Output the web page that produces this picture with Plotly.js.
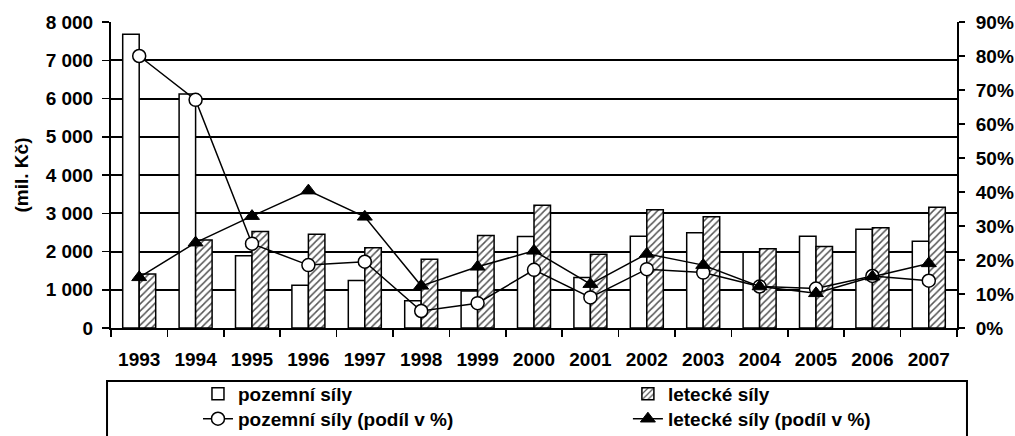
<!DOCTYPE html>
<html>
<head>
<meta charset="utf-8">
<script src="https://cdn.plot.ly/plotly-3.0.1.min.js"></script>
<style>html,body{margin:0;padding:0;background:#fff;}#chart{width:1015px;height:436px;}</style>
</head>
<body>
<div id="chart"></div>
<script>
const years = ['1993','1994','1995','1996','1997','1998','1999','2000','2001','2002','2003','2004','2005','2006','2007'];
const pozemniSily = [7680, 6120, 1890, 1120, 1240, 710, 970, 2390, 1320, 2400, 2490, 1980, 2400, 2580, 2270];
const leteckeSily = [1410, 2300, 2520, 2450, 2100, 1800, 2420, 3210, 1930, 3090, 2910, 2070, 2130, 2620, 3160];
const pozemniPodil = [80.0, 67.1, 24.8, 18.5, 19.5, 5.0, 7.3, 17.1, 9.0, 17.3, 16.3, 12.2, 11.6, 15.3, 13.9];
const leteckePodil = [14.9, 25.1, 32.9, 40.4, 32.7, 12.4, 18.0, 22.7, 12.9, 21.8, 18.5, 12.2, 10.2, 15.1, 19.0];
const leftTicks = [0,1000,2000,3000,4000,5000,6000,7000,8000];
const leftTickLabels = ['0','1 000','2 000','3 000','4 000','5 000','6 000','7 000','8 000'];
const rightTicks = [0,10,20,30,40,50,60,70,80,90];
const rightTickLabels = ['0%','10%','20%','30%','40%','50%','60%','70%','80%','90%'];

const F = {family: 'Liberation Sans', size: 19, color: '#000', weight: 'bold'};

const traces = [
  {type:'bar', name:'pozemní síly', x: years, y: pozemniSily, legend:'legend',
   marker:{color:'#fff', line:{color:'#000', width:1.5}}},
  {type:'bar', name:'letecké síly', x: years, y: leteckeSily, legend:'legend2',
   marker:{color:'#fff', line:{color:'#000', width:1.5},
           pattern:{shape:'/', fgcolor:'#555', bgcolor:'#fff', size:5, solidity:0.3}}},
  {type:'scatter', mode:'lines+markers', name:'pozemní síly (podíl v %)', x: years, y: pozemniPodil, yaxis:'y2', legend:'legend3',
   line:{color:'#000', width:1.5},
   marker:{symbol:'circle', size:13, color:'#fff', line:{color:'#000', width:1.5}}},
  {type:'scatter', mode:'lines+markers', name:'letecké síly (podíl v %)', x: years, y: leteckePodil, yaxis:'y2', legend:'legend4',
   line:{color:'#000', width:1.5},
   marker:{symbol:'triangle-up', size:13, color:'#000', line:{color:'#000', width:1}}}
];

const legendBase = {orientation:'v', xanchor:'left', yanchor:'middle',
  font:F, bgcolor:'rgba(0,0,0,0)', borderwidth:0, itemwidth:30};
const row1 = -0.2157, row2 = -0.297, col1 = 0.1028, col2 = 0.611;

const layout = {
  width:1015, height:436,
  margin:{l:111, r:58, t:22, b:108, pad:0, autoexpand:false},
  paper_bgcolor:'#fff', plot_bgcolor:'#fff',
  font: F,
  barmode:'group', bargap:0.415, bargroupgap:0,
  showlegend:true,
  xaxis:{type:'category', range:[-0.5, years.length - 0.5], showline:true, linecolor:'#000', linewidth:2, tickangle:0,
         ticks:'outside', tickson:'boundaries', ticklen:7, tickwidth:1.5, tickcolor:'#000',
         ticklabelstandoff:13, showgrid:false, tickfont:F, automargin:false},
  yaxis:{range:[0,8000], tickmode:'array', tickvals:leftTicks, ticktext:leftTickLabels,
         showline:true, linecolor:'#000', linewidth:2,
         ticks:'outside', ticklen:7, tickwidth:1.5, tickcolor:'#000', ticklabelstandoff:5,
         showgrid:true, gridcolor:'#000', gridwidth:2, zeroline:false, tickfont:F,
         title:{text:'(mil. Kč)', font:F, standoff:12}, automargin:false},
  yaxis2:{range:[0,90], tickmode:'array', tickvals:rightTicks, ticktext:rightTickLabels, overlaying:'y', side:'right',
          showline:true, linecolor:'#000', linewidth:2, ticks:'outside', ticklen:6, tickwidth:1.5, tickcolor:'#000',
          ticklabelstandoff:7, showgrid:false, zeroline:false, tickfont:F, automargin:false},
  legend: Object.assign({}, legendBase, {x:col1, y:row1}),
  legend2: Object.assign({}, legendBase, {x:col2, y:row1}),
  legend3: Object.assign({}, legendBase, {x:col1, y:row2}),
  legend4: Object.assign({}, legendBase, {x:col2, y:row2}),
  shapes:[{type:'rect', xref:'paper', yref:'paper', x0:-0.0047, x1:1.0118, y0:-0.173, y1:-0.40,
           line:{color:'#000', width:2}, fillcolor:'rgba(0,0,0,0)', layer:'above'}]
};

Plotly.newPlot('chart', traces, layout, {staticPlot:true, displayModeBar:false});
</script>
</body>
</html>
